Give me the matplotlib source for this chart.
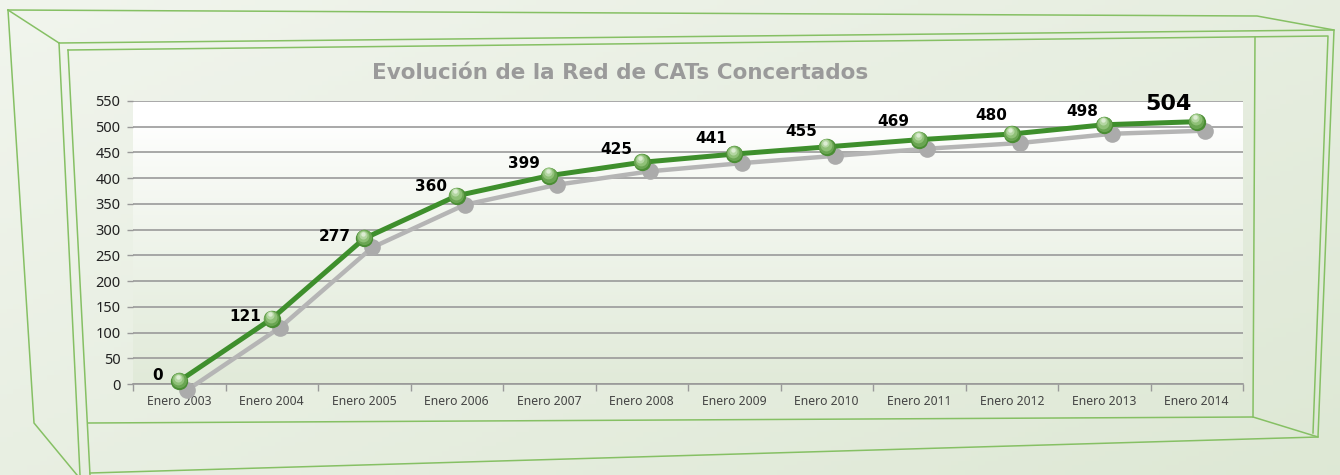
import numpy as np
from matplotlib import pyplot as plt
from matplotlib import transforms
from matplotlib.lines import Line2D

# datos
anios = ["Enero 2003", "Enero 2004", "Enero 2005", "Enero 2006", "Enero 2007", "Enero 2008",
         "Enero 2009", "Enero 2010", "Enero 2011", "Enero 2012", "Enero 2013", "Enero 2014"]
cats = [0, 121, 277, 360, 399, 425, 441, 455, 469, 480, 498, 504]
y_ticks = [0, 50, 100, 150, 200, 250, 300, 350, 400, 450, 500, 550]
titulo = "Evolución de la Red de CATs Concertados"

# desplazamiento de cada etiqueta respecto al punto (pixeles)
label_offsets = [(-22, 5), (-27, 2), (-29, 2), (-26, 9), (-25, 12), (-25, 13),
                 (-23, 16), (-25, 15), (-26, 18), (-21, 19), (-22, 13), (-28, 18)]

plt.rcParams['font.family'] = ['Noto Sans', 'DejaVu Sans']
negrita = ['DejaVu Sans']

W, H = 1340, 475
fig = plt.figure(figsize=(W / 100, H / 100), dpi=100)

# fondo degradado
bg = fig.add_axes([0, 0, 1, 1], zorder=-10)
gx, gy = np.meshgrid(np.linspace(0, 1, 200), np.linspace(0, 1, 100))
g = 0.55 * gx + 0.45 * gy
c0 = np.array([0.945, 0.960, 0.930])
c1 = np.array([0.870, 0.910, 0.835])
img = c0[None, None, :] * (1 - g[..., None]) + c1[None, None, :] * g[..., None]
bg.imshow(img, extent=[0, 1, 0, 1], aspect='auto', origin='upper')
bg.set_xlim(0, 1)
bg.set_ylim(0, 1)
bg.axis('off')


def px(x, y):
    return x / W, 1 - y / H


# marco 3D
marco = [
    [(8, 10), (1257, 16), (1334, 30), (1318, 437), (90, 473)],
    [(8, 10), (34, 423), (77, 475)],
    [(8, 10), (59, 43)],
    [(59, 43), (1334, 30)],
    [(68, 50), (1328, 36), (1313, 433)],
    [(59, 43), (80, 475)],
    [(68, 50), (90, 475)],
    [(1255, 37), (1253, 417)],
    [(88, 423), (1253, 417), (1318, 437)],
]
for poly in marco:
    xs, ys = zip(*[px(a, b) for a, b in poly])
    fig.add_artist(Line2D(xs, ys, color='#86c064', lw=1.1, transform=fig.transFigure))

ax = fig.add_axes([133 / W, 1 - 384 / H, 1110 / W, 283 / H])
n = len(anios)

# fondo del area de trazado (blanco arriba, verde claro abajo)
grad = np.linspace(0, 1, 256)
t = np.clip((grad - 0.08) / 0.92, 0, 1) ** 0.8
top = np.array([1.0, 1.0, 1.0])
bot = np.array([0.882, 0.918, 0.850])
area = top[None, :] * (1 - t[:, None]) + bot[None, :] * t[:, None]
area = np.repeat(area[:, None, :], 2, axis=1)
ax.imshow(area, extent=[-0.5, n - 0.5, 0, 550], aspect='auto', origin='upper', zorder=0)
ax.set_xlim(-0.5, n - 0.5)
ax.set_ylim(0, 550)

ax.patch.set_alpha(0)
for s in ['top', 'right', 'left']:
    ax.spines[s].set_visible(False)
ax.spines['bottom'].set_color('#999999')
ax.spines['bottom'].set_linewidth(1.2)

ax.set_yticks(y_ticks)
ax.set_yticklabels([str(v) for v in y_ticks], fontsize=10.5, color='#222222')
ax.tick_params(axis='y', length=4, width=1, color='#999999', pad=5)
ax.yaxis.grid(True, color='#9a9a9a', lw=1.2)
ax.set_axisbelow(True)

x = np.arange(n)
ax.set_xticks(x)
ax.set_xticklabels(anios, fontsize=8.8, color='#444444')
ax.tick_params(axis='x', length=0, pad=8)
ax.set_xticks(np.arange(n + 1) - 0.5, minor=True)
ax.tick_params(axis='x', which='minor', length=5, width=1, color='#999999')

# sombra
sombra = transforms.offset_copy(ax.transData, fig=fig, x=8, y=-6, units='dots')
ax.plot(x, cats, color='#b5b5b5', lw=3.2, transform=sombra, zorder=3, clip_on=False,
        solid_capstyle='round')
ax.plot(x, cats, 'o', color='#ababab', ms=12, mec='none', transform=sombra, zorder=3,
        clip_on=False)

# linea principal
arriba = transforms.offset_copy(ax.transData, fig=fig, x=0, y=3, units='dots')
ax.plot(x, cats, color='#3e8f2c', lw=3.6, zorder=4, clip_on=False, transform=arriba)
ax.plot(x, cats, 'o', color='#4a8d34', ms=12.5, mec='none', zorder=5, clip_on=False,
        transform=arriba)
esferas = [(-0.3, 1.0, 11.0, '#6aa552'), (-0.8, 2.2, 8.5, '#8fc077'),
           (-1.3, 3.4, 5.8, '#b4d6a2'), (-1.6, 4.3, 3.2, '#dcecd2')]
for ox, oy, ms, col in esferas:
    tr = transforms.offset_copy(ax.transData, fig=fig, x=ox, y=3 + oy, units='dots')
    ax.plot(x, cats, 'o', color=col, ms=ms, mec='none', transform=tr, zorder=6,
            clip_on=False)

for i, v in enumerate(cats):
    dx, dy = label_offsets[i]
    ax.annotate(str(v), (x[i], v), xytext=(dx, dy + 3), textcoords='offset pixels',
                ha='center', va='center', fontsize=16 if i == n - 1 else 11,
                fontweight='bold', color='black', zorder=8, family=negrita)

fig.text(620 / W, 1 - 73 / H, titulo, ha='center', va='center', fontsize=15.5,
         fontweight='bold', color='#9a9a9a', family=negrita)

fig.savefig('out.png', dpi=100)
